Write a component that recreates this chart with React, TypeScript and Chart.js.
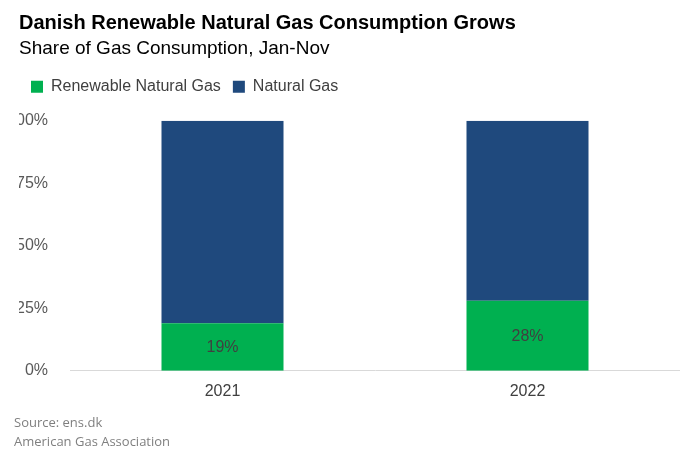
import React, { useEffect, useRef } from "react";
import { Chart, registerables } from "chart.js";
Chart.register(...registerables);

const categories = ["2021", "2022"];
const renewable = [19, 28];
const natural = [81, 72];
const renewableLabels = ["19%", "28%"];

const labelPlugin = {
  id: "labels",
  beforeInit(chart: any) {
    const orig = chart.legend.fit;
    chart.legend.fit = function () {
      orig.bind(chart.legend)();
      this.height += 16;
    };
  },
  afterDatasetsDraw(chart: any) {
    const ctx = chart.ctx;
    const meta = chart.getDatasetMeta(0);
    ctx.save();
    ctx.fillStyle = "#404040";
    ctx.font = "16px 'Liberation Sans', Arial, sans-serif";
    ctx.textAlign = "center";
    ctx.textBaseline = "middle";
    meta.data.forEach((bar: any, i: number) => {
      const p = bar.getProps(["x", "y", "base"], true);
      ctx.fillText(renewableLabels[i], p.x, (p.y + p.base) / 2 + 1);
    });
    ctx.fillStyle = "#7f7f7f";
    ctx.font = "13px 'Open Sans', sans-serif";
    ctx.textAlign = "left";
    ctx.textBaseline = "alphabetic";
    ctx.fillText("Source: ens.dk", 14, 427);
    ctx.fillText("American Gas Association", 14, 446);
    ctx.restore();
  },
};

export default function App() {
  const ref = useRef<HTMLCanvasElement>(null);
  useEffect(() => {
    const chart = new Chart(ref.current!, {
      type: "bar",
      data: {
        labels: categories,
        datasets: [
          { label: "Renewable Natural Gas", data: renewable, backgroundColor: "#00b050", barPercentage: 0.4, categoryPercentage: 1 },
          { label: "Natural Gas", data: natural, backgroundColor: "#1f497d", barPercentage: 0.4, categoryPercentage: 1 },
        ],
      },
      options: {
        responsive: false,
        animation: false,
        layout: { padding: { left: 19, right: 0, top: 0, bottom: 59 } },
        plugins: {
          tooltip: { enabled: false },
          title: {
            display: true, text: "Danish Renewable Natural Gas Consumption Grows", align: "start",
            color: "#000", font: { family: "'Liberation Sans', Arial", size: 20, weight: "bold" },
            padding: { top: 11, bottom: 0 },
          },
          subtitle: {
            display: true, text: "Share of Gas Consumption, Jan-Nov", align: "start",
            color: "#000", font: { family: "'Liberation Sans', Arial", size: 19 },
            padding: { top: 2, bottom: 7 },
          },
          legend: {
            align: "start",
            labels: { boxWidth: 12, boxHeight: 12, color: "#404040", padding: 12,
              font: { family: "'Liberation Sans', Arial", size: 16 } },
          },
        },
        scales: {
          x: {
            stacked: true,
            grid: { display: false },
            border: { color: "#d9d9d9" },
            ticks: { color: "#404040", font: { family: "'Liberation Sans', Arial", size: 16 } },
          },
          y: {
            stacked: true, min: 0, max: 100,
            grid: { display: false },
            border: { display: false },
            afterFit(s: any) { s.width = 51; },
            ticks: { stepSize: 25, color: "#595959", padding: 14, callback: (v: any) => v + "%",
              font: { family: "'Liberation Sans', Arial", size: 16 } },
          },
        },
      },
      plugins: [labelPlugin],
    });
    return () => chart.destroy();
  }, []);
  return (
    <div style={{ position: "absolute", left: 0, top: 0, background: "#fff" }}>
      <canvas ref={ref} width={680} height={463} />
    </div>
  );
}
